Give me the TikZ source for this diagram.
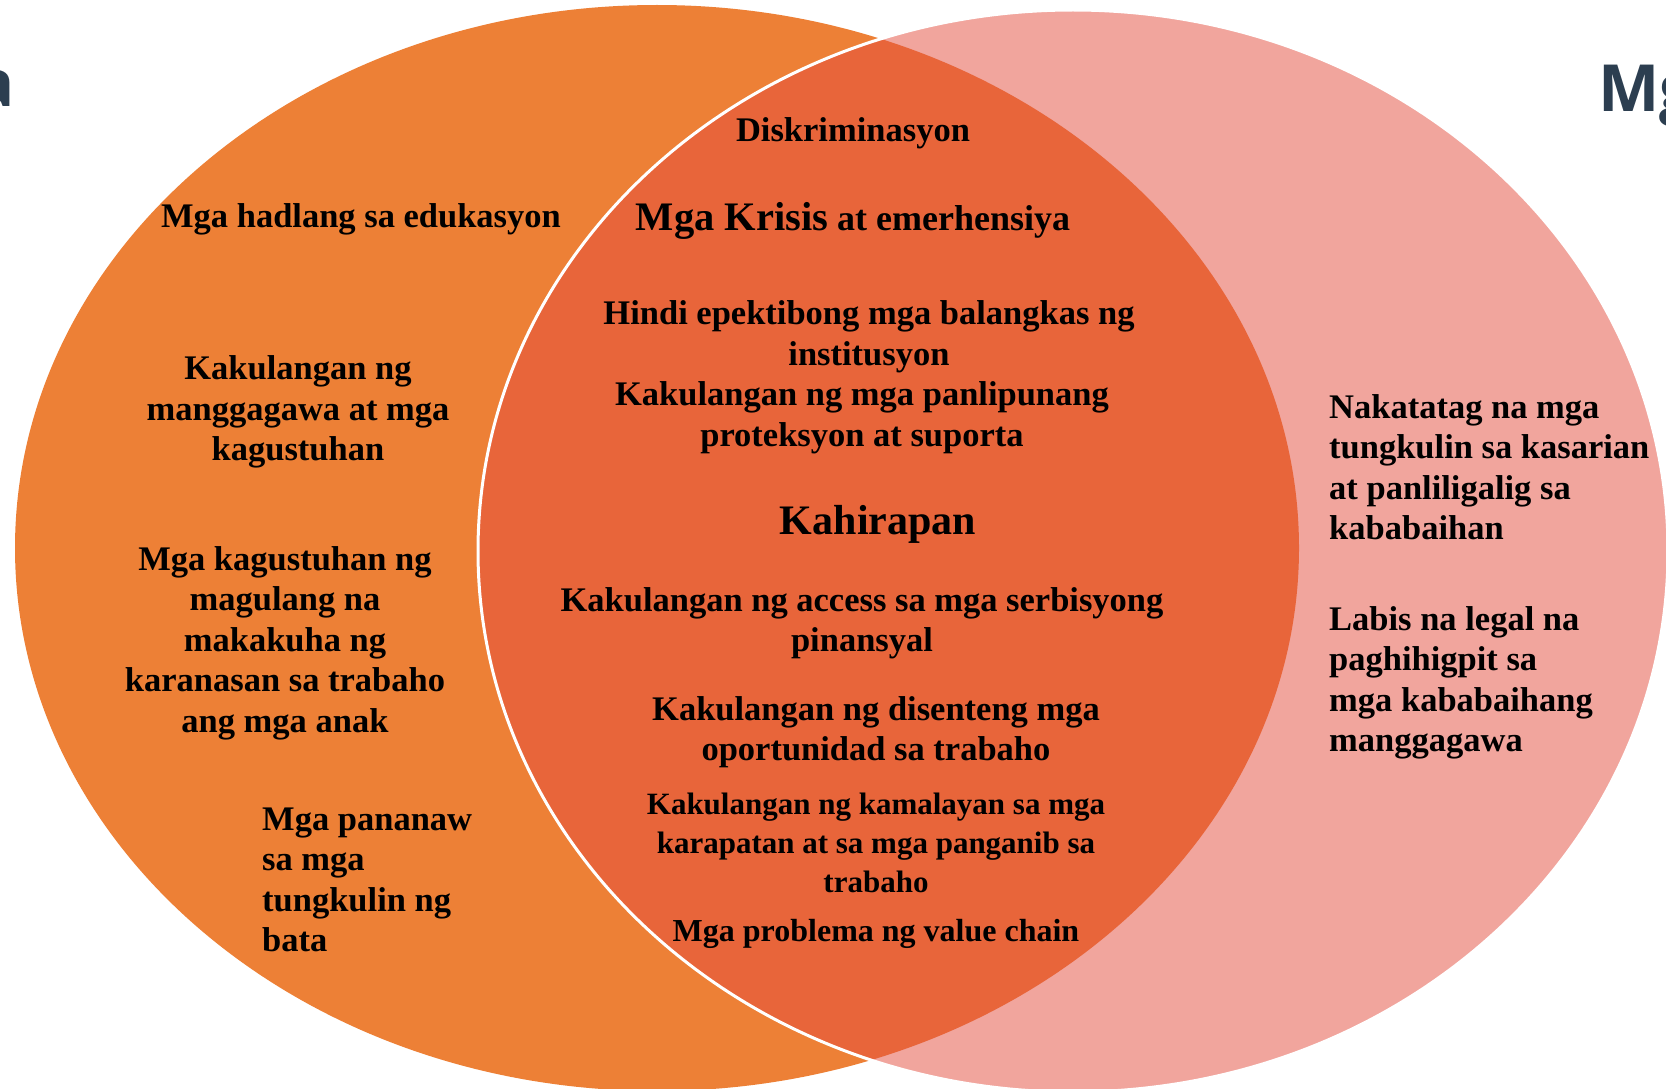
\documentclass[tikz,border=0pt]{standalone}
\usepackage{fontspec}
\setmainfont{Liberation Serif}
\newfontfamily\titlefont{Open Sans}
\definecolor{orangeL}{RGB}{237,128,54}
\definecolor{overlapC}{RGB}{232,101,58}
\definecolor{pinkR}{RGB}{241,165,157}
\definecolor{titleC}{RGB}{44,62,80}
\tikzset{
  lbl/.style={font=\fontsize{34.5}{40.5}\selectfont\bfseries, align=center, inner sep=0pt, text=black},
  lblleft/.style={lbl, align=left, anchor=west},
  small/.style={font=\fontsize{31}{39}\selectfont\bfseries},
  ttl/.style={font=\titlefont\fontsize{65}{70}\selectfont\bfseries, text=titleC, inner sep=0pt}
}
\begin{document}
\begin{tikzpicture}[x=1pt,y=-1pt]
\useasboundingbox (0,0) rectangle (1666,1089);
\clip (0,0) rectangle (1666,1089);
\fill[white] (0,0) rectangle (1666,1089);
% circles
\fill[orangeL] (657,548) ellipse [x radius=642, y radius=543];
\fill[pinkR] (1073,551) ellipse [x radius=595, y radius=541];
\begin{scope}
  \clip (657,548) ellipse [x radius=642, y radius=543];
  \fill[overlapC] (1073,551) ellipse [x radius=595, y radius=541];
\end{scope}
\draw[white, line width=3pt] (1073,551) ellipse [x radius=595, y radius=541];
% titles (cut off)
\node[ttl, anchor=base east] (tleft) at (15,107) {a};
\node[ttl, anchor=base west] (tright) at (1598,112) {Mg};
% left
\node[lbl] (l1) at (361,219) {Mga hadlang sa edukasyon};
\node[lbl] (l2) at (298,412) {Kakulangan ng\\manggagawa at mga\\kagustuhan};
\node[lbl] (l3) at (285,643) {Mga kagustuhan ng\\magulang na\\makakuha ng\\karanasan sa trabaho\\ang mga anak};
\node[lblleft] (l4) at (262,880) {Mga pananaw\\sa mga\\tungkulin ng\\bata};
% center
\node[lbl] (c1) at (853,133) {Diskriminasyon};
\node[lbl, font=\fontsize{36}{40}\selectfont\bfseries] (c2) at (853,221) {{\fontsize{40.5}{44}\selectfont Mga Krisis} at emerhensiya};
\node[lbl] (c3) at (869,337) {Hindi epektibong mga balangkas ng\\institusyon};
\node[lbl] (c4) at (862,418) {Kakulangan ng mga panlipunang\\proteksyon at suporta};
\node[lbl, font=\fontsize{42}{46}\selectfont\bfseries] (c5) at (878,524) {Kahirapan};
\node[lbl] (c6) at (862,623) {Kakulangan ng access sa mga serbisyong\\pinansyal};
\node[lbl] (c7) at (876,732) {Kakulangan ng disenteng mga\\oportunidad sa trabaho};
\node[lbl, small] (c8) at (876,843) {Kakulangan ng kamalayan sa mga\\karapatan at sa mga panganib sa\\trabaho};
\node[lbl, font=\fontsize{32}{39}\selectfont\bfseries] (c9) at (876,934) {Mga problema ng value chain};
% right
\node[lblleft] (r1) at (1329,467) {Nakatatag na mga\\tungkulin sa kasarian\\at panliligalig sa\\kababaihan};
\node[lblleft] (r2) at (1329,683) {Labis na legal na\\paghihigpit sa\\mga kababaihang\\manggagawa};
\end{tikzpicture}
\end{document}
